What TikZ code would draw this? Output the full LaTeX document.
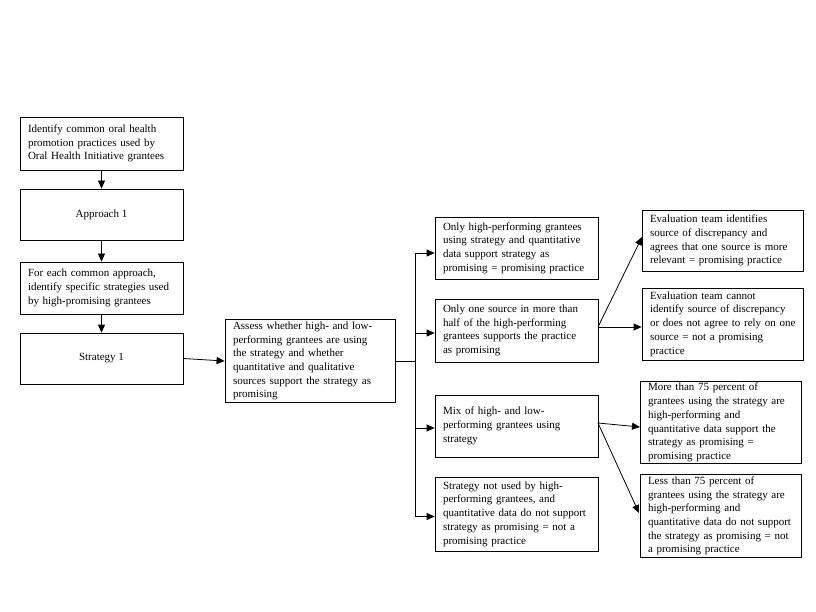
\documentclass[tikz,border=0pt]{standalone}
\usepackage{fontspec}
\setmainfont{Liberation Serif}
\usetikzlibrary{arrows.meta}
\begin{document}
\begin{tikzpicture}[x=1pt,y=-1pt,
  box/.style={draw=black,line width=0.8pt,inner xsep=8pt,inner ysep=2pt,align=left,
    font=\fontsize{11}{13.7}\selectfont},
  cbox/.style={draw=black,line width=0.8pt,inner xsep=8pt,inner ysep=2pt,align=center,
    font=\fontsize{11}{13.7}\selectfont},
  arr/.style={line width=0.8pt,-{Triangle[length=8pt,width=7pt]}},
  ln/.style={line width=0.8pt}]
\useasboundingbox[fill=white] (0,0) rectangle (816,612);
% left column
\node[box,minimum width=163pt,minimum height=53pt,text width=147pt] (A) at (101.5,143.5)
 {Identify common oral health\\promotion practices used by\\Oral Health Initiative grantees};
\node[cbox,minimum width=163pt,minimum height=51pt] (B) at (101.5,214.5) {Approach 1};
\node[box,minimum width=163pt,minimum height=52pt,text width=147pt] (C) at (101.5,288)
 {For each common approach,\\identify specific strategies used\\by high-promising grantees};
\node[cbox,minimum width=163pt,minimum height=51pt] (D) at (101.5,358.5) {Strategy 1};
\node[box,minimum width=170pt,minimum height=82pt,text width=154pt] (E) at (310,361)
 {Assess whether high- and low-\\performing grantees are using\\the strategy and whether\\quantitative and qualitative\\sources support the strategy as\\promising};
% middle column
\node[box,minimum width=163pt,minimum height=62pt,text width=147pt] (F1) at (516.5,248)
 {Only high-performing grantees\\using strategy and quantitative\\data support strategy as\\promising = promising practice};
\node[box,minimum width=163pt,minimum height=63pt,text width=147pt] (F2) at (516.5,330.5)
 {Only one source in more than\\half of the high-performing\\grantees supports the practice\\as promising};
\node[box,minimum width=163pt,minimum height=62pt,text width=147pt] (F3) at (516.5,426)
 {Mix of high- and low-\\performing grantees using\\strategy};
\node[box,minimum width=163pt,minimum height=74pt,text width=147pt] (F4) at (516.5,514)
 {Strategy not used by high-\\performing grantees, and\\\mbox{quantitative data do not support}\\strategy as promising = not a\\promising practice};
% right column
\node[box,minimum width=161pt,minimum height=61pt,text width=145pt] (G1) at (722.5,240.5)
 {Evaluation team identifies\\source of discrepancy and\\\mbox{agrees that one source is more}\\relevant = promising practice};
\node[box,minimum width=161pt,minimum height=72pt,text width=145pt] (G2) at (722.5,324)
 {Evaluation team cannot\\\mbox{identify source of discrepancy}\\\mbox{or does not agree to rely on one}\\source = not a promising\\practice};
\node[box,minimum width=161pt,minimum height=81pt,text width=145pt] (G3) at (720.5,422.5)
 {More than 75 percent of\\\mbox{grantees using the strategy are}\\high-performing and\\\mbox{quantitative data support the}\\strategy as promising =\\promising practice};
\node[box,minimum width=161pt,minimum height=82pt,text width=145pt] (G4) at (720.5,516)
 {Less than 75 percent of\\\mbox{grantees using the strategy are}\\high-performing and\\\mbox{quantitative data do not support}\\\mbox{the strategy as promising = not}\\a promising practice};
% left column arrows
\draw[arr] (A.south) -- (B.north);
\draw[arr] (B.south) -- (C.north);
\draw[arr] (C.south) -- (D.north);
\draw[arr] (D.east) -- (E.west);
% bracket
\coordinate (j) at (415,361);
\coordinate (b1) at (415,253);
\coordinate (b2) at (415,333);
\coordinate (b3) at (415,428);
\coordinate (b4) at (415,516.5);
\draw[ln] (E.east) -- (j);
\draw[ln] (b1) -- (b4);
\draw[arr] (b1) -- (b1 -| F1.west);
\draw[arr] (b2) -- (b2 -| F2.west);
\draw[arr] (b3) -- (b3 -| F3.west);
\draw[arr] (b4) -- (b4 -| F4.west);
% fans
\coordinate (o2) at (598,327);
\coordinate (o3) at (598,423);
\coordinate (t1) at (642,237);
\coordinate (t3) at (640,427);
\coordinate (t4) at (639,513);
\draw[arr] (o2) -- (t1);
\draw[arr] (o2) -- (o2 -| G2.west);
\draw[arr] (o3) -- (t3);
\draw[arr] (o3) -- (t4);
\end{tikzpicture}
\end{document}
